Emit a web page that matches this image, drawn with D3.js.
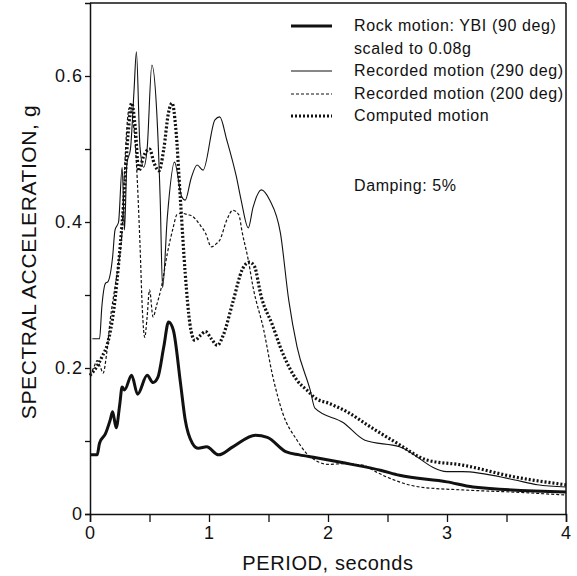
<!DOCTYPE html>
<html>
<head>
<meta charset="utf-8">
<script src="https://cdn.jsdelivr.net/npm/d3@7"></script>
<style>
  body { margin: 0; background: #fff; }
  text { font-family: "Liberation Sans", Arial, Helvetica, sans-serif; fill: #111; }
</style>
</head>
<body>
<script>
// period (s), spectral acceleration (g)
let rockMotion = [[0,0.081],[0.06,0.081],[0.08,0.097],[0.13,0.11],[0.17,0.129],[0.19,0.14],[0.22,0.118],[0.25,0.15],[0.27,0.174],[0.29,0.17],[0.35,0.19],[0.40,0.164],[0.48,0.19],[0.53,0.18],[0.57,0.187],[0.62,0.229],[0.66,0.263],[0.70,0.252],[0.76,0.18],[0.80,0.129],[0.86,0.097],[0.91,0.09],[0.98,0.092],[1.08,0.081],[1.2,0.092],[1.39,0.108],[1.49,0.105],[1.65,0.085],[1.76,0.081],[1.9,0.077],[2.2,0.068],[2.44,0.06],[2.6,0.053],[3.0,0.044],[3.22,0.037],[4.0,0.030]];

let recorded290 = [[0.02,0.24],[0.08,0.24],[0.10,0.285],[0.13,0.316],[0.15,0.318],[0.19,0.352],[0.21,0.389],[0.24,0.40],[0.27,0.475],[0.29,0.389],[0.31,0.48],[0.34,0.50],[0.37,0.58],[0.39,0.633],[0.42,0.503],[0.45,0.475],[0.48,0.50],[0.52,0.615],[0.56,0.553],[0.59,0.43],[0.61,0.31],[0.65,0.407],[0.71,0.482],[0.77,0.435],[0.80,0.43],[0.85,0.46],[0.90,0.478],[0.95,0.471],[1.05,0.54],[1.09,0.544],[1.15,0.512],[1.23,0.462],[1.27,0.43],[1.33,0.392],[1.37,0.42],[1.44,0.444],[1.51,0.43],[1.60,0.385],[1.67,0.293],[1.74,0.229],[1.85,0.17],[1.89,0.145],[2.13,0.125],[2.31,0.101],[2.6,0.092],[3.0,0.058],[3.13,0.058],[3.56,0.047],[3.76,0.04],[4.0,0.037]];

let recorded200 = [[0,0.19],[0.03,0.2],[0.06,0.21],[0.09,0.20],[0.11,0.193],[0.14,0.22],[0.17,0.266],[0.21,0.311],[0.24,0.344],[0.27,0.39],[0.29,0.47],[0.31,0.53],[0.33,0.556],[0.36,0.54],[0.39,0.48],[0.42,0.37],[0.44,0.28],[0.46,0.242],[0.48,0.27],[0.5,0.307],[0.53,0.27],[0.56,0.286],[0.6,0.311],[0.65,0.357],[0.70,0.393],[0.73,0.41],[0.77,0.412],[0.82,0.41],[0.86,0.408],[0.92,0.397],[0.97,0.385],[1.02,0.366],[1.06,0.37],[1.09,0.375],[1.15,0.403],[1.2,0.416],[1.25,0.41],[1.28,0.385],[1.33,0.348],[1.37,0.311],[1.46,0.252],[1.53,0.193],[1.62,0.138],[1.74,0.101],[1.82,0.083],[1.9,0.073],[2.0,0.068],[2.13,0.069],[2.29,0.067],[2.4,0.058],[2.49,0.051],[2.77,0.037],[3.13,0.033],[3.56,0.03],[4.0,0.026]];

let computedMotion = [[0,0.19],[0.05,0.20],[0.1,0.215],[0.15,0.235],[0.2,0.28],[0.25,0.36],[0.28,0.42],[0.32,0.52],[0.35,0.563],[0.38,0.53],[0.41,0.47],[0.45,0.49],[0.5,0.50],[0.54,0.48],[0.58,0.47],[0.62,0.50],[0.66,0.55],[0.69,0.563],[0.72,0.53],[0.76,0.43],[0.80,0.33],[0.84,0.26],[0.88,0.238],[0.93,0.245],[0.97,0.25],[1.02,0.24],[1.07,0.231],[1.12,0.245],[1.2,0.29],[1.28,0.335],[1.34,0.345],[1.38,0.34],[1.44,0.297],[1.53,0.26],[1.62,0.22],[1.74,0.183],[1.82,0.17],[1.9,0.158],[2.0,0.152],[2.16,0.14],[2.35,0.12],[2.58,0.097],[2.83,0.074],[3.13,0.067],[3.56,0.051],[4.0,0.04]];

let xTicks = [0, 0.5, 1, 1.5, 2, 2.5, 3, 3.5, 4];
let xTickLabels = ["0", "", "1", "", "2", "", "3", "", "4"];
let yTicks = [0, 0.1, 0.2, 0.3, 0.4, 0.5, 0.6];
let yTickLabels = ["0", "", "0.2", "", "0.4", "", "0.6"];
let legendLabels = [["Rock motion: YBI (90 deg)", "scaled to 0.08g"], ["Recorded motion (290 deg)"], ["Recorded motion (200 deg)"], ["Computed motion"]];
let noteText = "Damping: 5%";

let W = 577, H = 576;

let x = d3.scaleLinear().domain([0, 4]).range([90, 566]);
let y = d3.scaleLinear().domain([0, 0.7]).range([514, 3]);

let svg = d3.select("body").append("svg")
  .attr("width", W)
  .attr("height", H);

// series styles, same order as legendLabels
let series = [
  { data: rockMotion, width: 3, dash: null },
  { data: recorded290, width: 1.1, dash: null },
  { data: recorded200, width: 1.2, dash: "3,2" },
  { data: computedMotion, width: 3.2, dash: "2,2" }
];

let line = d3.line()
  .x(d => x(d[0]))
  .y(d => y(d[1]))
  .curve(d3.curveMonotoneX);

svg.selectAll("path.series")
  .data(series)
  .enter()
  .append("path")
    .attr("class", "series")
    .attr("d", d => line(d.data))
    .attr("fill", "none")
    .attr("stroke", "#111")
    .attr("stroke-width", d => d.width)
    .attr("stroke-dasharray", d => d.dash);

// frame
svg.append("line")
  .attr("x1", x(0)).attr("x2", x(4))
  .attr("y1", y(0.7)).attr("y2", y(0.7))
  .attr("stroke", "#111").attr("stroke-width", 1.5);
svg.append("line")
  .attr("x1", x(4)).attr("x2", x(4))
  .attr("y1", y(0.7)).attr("y2", y(0))
  .attr("stroke", "#111").attr("stroke-width", 1.5);

let xAxis = svg.append("g")
  .attr("transform", "translate(0," + y(0) + ")")
  .call(d3.axisBottom(x)
    .tickValues(xTicks)
    .tickSize(8)
    .tickPadding(4)
    .tickFormat((d, i) => xTickLabels[i]));

let yAxis = svg.append("g")
  .attr("transform", "translate(" + x(0) + ",0)")
  .call(d3.axisLeft(y)
    .tickValues(yTicks)
    .tickSize(5)
    .tickPadding(2)
    .tickFormat((d, i) => yTickLabels[i]));

[xAxis, yAxis].forEach(g => {
  g.select(".domain").attr("stroke", "#111").attr("stroke-width", 1.5);
  g.selectAll(".tick line").attr("stroke", "#111").attr("stroke-width", 1.3);
  g.selectAll(".tick text")
    .attr("font-family", "'Liberation Sans', Arial, sans-serif")
    .attr("font-size", "18px")
    .attr("letter-spacing", "1px")
    .attr("fill", "#111");
});

// axis titles
svg.append("text")
  .attr("x", 328)
  .attr("y", 570)
  .attr("text-anchor", "middle")
  .attr("font-size", "20px")
  .attr("letter-spacing", "0.6px")
  .text("PERIOD, seconds");

svg.append("text")
  .attr("transform", "translate(36,262) rotate(-90)")
  .attr("text-anchor", "middle")
  .attr("font-size", "21px")
  .attr("letter-spacing", "0.6px")
  .text("SPECTRAL ACCELERATION, g");

// legend
let rowBase = [31, 76, 99, 121];
let legend = svg.selectAll("g.legend")
  .data(series)
  .enter()
  .append("g")
    .attr("class", "legend")
    .attr("transform", (d, i) => "translate(0," + rowBase[i] + ")");

legend.append("line")
  .attr("x1", 291).attr("x2", 332)
  .attr("y1", -5).attr("y2", -5)
  .attr("stroke", "#111")
  .attr("stroke-width", d => d.width)
  .attr("stroke-dasharray", d => d.dash);

legend.each(function(d, i) {
  let g = d3.select(this);
  legendLabels[i].forEach((t, k) => {
    g.append("text")
      .attr("x", 354)
      .attr("y", k * 22.5)
      .attr("font-size", "16px")
      .attr("letter-spacing", "0.6px")
      .text(t);
  });
});

svg.append("text")
  .attr("x", 354)
  .attr("y", 191)
  .attr("font-size", "16px")
  .attr("letter-spacing", "0.6px")
  .text(noteText);
</script>
</body>
</html>
